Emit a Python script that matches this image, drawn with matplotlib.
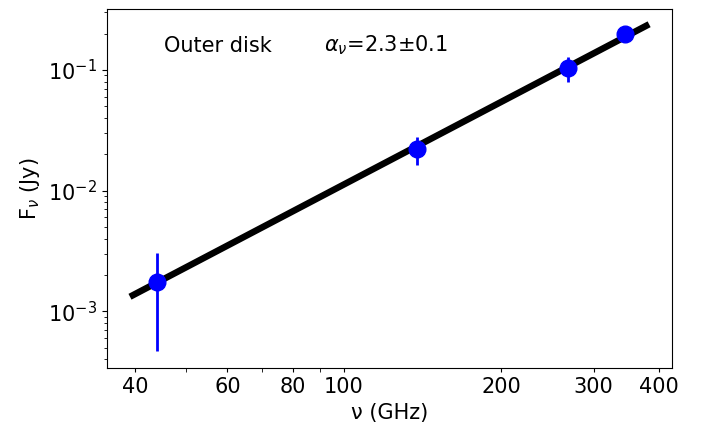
import matplotlib
matplotlib.use('Agg')
import matplotlib.pyplot as plt
from matplotlib.ticker import FixedLocator, NullFormatter

# measured points
freq = [44, 138, 268, 344]               # GHz
flux = [1.76e-3, 0.0220, 0.1045, 0.199]  # Jy
flux_err = [1.29e-3, 0.0058, 0.0245, 0.02]

# power-law fit line endpoints
fit_freq = [39.1, 383]
fit_flux = [1.32e-3, 0.239]

xticks = [40, 60, 80, 100, 200, 300, 400]
xticks_minor = [50, 70, 90]

fig = plt.figure(figsize=(7.04, 4.28), dpi=100)
ax = fig.add_axes([0.1516, 0.1402, 0.8030, 0.8381])

ax.plot(fit_freq, fit_flux, color='black', lw=4.7, solid_capstyle='butt')
ax.errorbar(freq, flux, yerr=flux_err, fmt='o', color='blue', ms=12,
            elinewidth=2, capsize=0)

ax.set_xscale('log')
ax.set_yscale('log')
ax.set_xlim(35.3, 423.6)
ax.set_ylim(3.39e-4, 0.318)

ax.xaxis.set_major_locator(FixedLocator(xticks))
ax.xaxis.set_minor_locator(FixedLocator(xticks_minor))
ax.set_xticklabels([str(t) for t in xticks])
ax.xaxis.set_minor_formatter(NullFormatter())
ax.tick_params(axis='x', which='both', length=3.1, labelsize=15)
ax.tick_params(axis='y', which='major', labelsize=15)
ax.tick_params(axis='y', which='minor', length=2.4)

ax.set_xlabel('ν (GHz)', fontsize=15)
ax.set_ylabel(r'F$_\nu$ (Jy)', fontsize=15)

ax.text(0.101, 0.882, 'Outer disk', transform=ax.transAxes, fontsize=15, va='baseline')
ax.text(0.384, 0.882, r'$\alpha_\nu$=2.3±0.1', transform=ax.transAxes, fontsize=15, va='baseline')

fig.savefig('out.png', dpi=100)
